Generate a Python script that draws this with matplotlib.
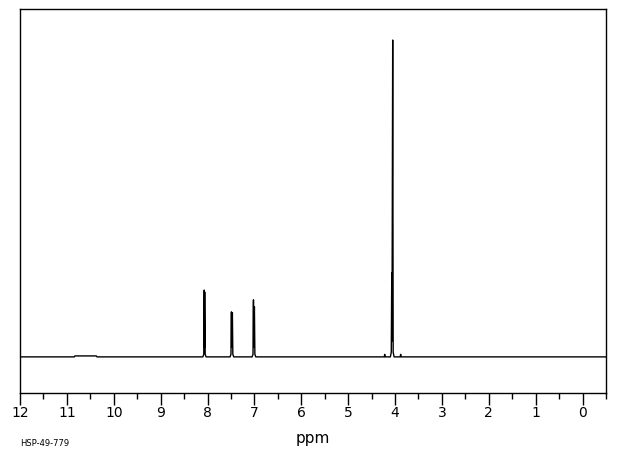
import numpy as np
import matplotlib
matplotlib.use("Agg")
from matplotlib import pyplot as plt
from matplotlib.ticker import MultipleLocator

# Spectrum trace (chemical shift in ppm, intensity with tallest peak = 100)
ppm = [12.00, 10.84, 10.83, 10.37, 10.36,
       8.10, 8.08, 8.07, 8.065, 8.06, 8.05, 8.03,
       7.52, 7.50, 7.49, 7.485, 7.47, 7.46, 7.44,
       7.05, 7.03, 7.02, 7.015, 7.00, 6.99, 6.97,
       4.23, 4.22, 4.21,
       4.10, 4.08, 4.07, 4.065, 4.05, 4.04, 4.02,
       3.89, 3.88, 3.87,
       -0.50]
intensity = [0.0, 0.0, 0.3, 0.3, 0.0,
             0.0, 0.8, 21.1, 3.0, 20.5, 0.8, 0.0,
             0.0, 0.8, 14.2, 3.0, 13.9, 0.8, 0.0,
             0.0, 0.8, 18.0, 3.0, 15.8, 0.8, 0.0,
             0.0, 0.8, 0.0,
             0.0, 1.5, 26.5, 5.0, 100.0, 1.5, 0.0,
             0.0, 0.8, 0.0,
             0.0]

tick_values = np.arange(0, 13)
code_label = "HSP-49-779"

fig = plt.figure(figsize=(6.2, 4.55), dpi=100)
ax = fig.add_axes([20/620, 1 - 393/455, 586/620, 384/455])

ax.plot(ppm, intensity, c='k', lw=1.0)

ax.set_xlim(12, -0.5)
ax.set_ylim(-11.4, 109.8)
ax.set_yticks([])
ax.xaxis.set_major_locator(MultipleLocator(1))
ax.xaxis.set_minor_locator(MultipleLocator(0.5))
ax.set_xticks(tick_values)
ax.set_xticklabels([str(v) for v in tick_values])
ax.tick_params(axis='x', which='major', length=8.5, width=1.0, direction='out', pad=1, labelsize=10)
ax.tick_params(axis='x', which='minor', length=4.3, width=1.0, direction='out')
for s in ax.spines.values():
    s.set_linewidth(1.0)

ax.set_xlabel("ppm", fontsize=11, labelpad=8)
fig.text(20/620, 1 - 443/455, code_label, fontsize=6, va='center', ha='left')

fig.savefig("out.png", dpi=100)
